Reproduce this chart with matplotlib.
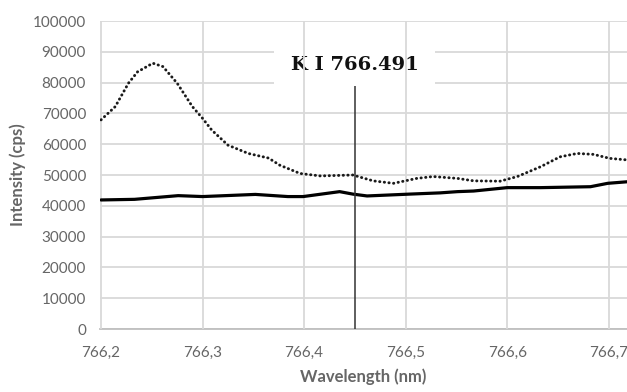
import numpy as np
import matplotlib
matplotlib.use('Agg')
import matplotlib.pyplot as plt

# dotted series
wl_dot = [766.200, 766.214, 766.227, 766.236, 766.251, 766.261, 766.275, 766.290,
          766.300, 766.309, 766.325, 766.345, 766.365, 766.376, 766.396, 766.416,
          766.448, 766.468, 766.488, 766.511, 766.527, 766.551, 766.567, 766.593,
          766.610, 766.633, 766.652, 766.669, 766.685, 766.701, 766.718]
int_dot = [67900, 72200, 79800, 83500, 86300, 85200, 79800, 72200,
           68400, 64600, 59700, 57000, 55500, 53200, 50500, 49700,
           50000, 48100, 47300, 48900, 49500, 48900, 48100, 48000,
           49500, 52700, 55900, 57000, 56700, 55400, 54900]

# solid series
wl_sol = [766.200, 766.233, 766.276, 766.300, 766.352, 766.384, 766.399, 766.435,
          766.448, 766.462, 766.504, 766.534, 766.551, 766.567, 766.600, 766.633,
          766.682, 766.699, 766.718]
int_sol = [41900, 42100, 43300, 43000, 43700, 43000, 43000, 44600,
           43800, 43200, 43800, 44200, 44600, 44800, 45900, 45900,
           46200, 47300, 47800]

line_wl = 766.45
line_top = 79000
line_label = 'K I 766.491'
xticks = [766.2, 766.3, 766.4, 766.5, 766.6, 766.7]
xticklabels = ['766,2', '766,3', '766,4', '766,5', '766,6', '766,7']
yticks = list(range(0, 100001, 10000))

grey = '#666666'
gridc = '#d9d9d9'

fig = plt.figure(figsize=(6.27, 3.92), dpi=100)
ax = fig.add_axes([0.1595, 0.1607, 0.8405, 0.7857])

ax.set_xlim(766.199, 766.718)
ax.set_ylim(0, 100000)

# horizontal grid in axis, vertical grid drawn over the label box
ax.set_axisbelow(True)
ax.yaxis.grid(True, color=gridc, lw=1.3)
ax.vlines(xticks, 0, 100000, color=gridc, lw=1.3, zorder=3.5)

ax.plot(wl_sol, int_sol, color='black', lw=2.3, zorder=5, solid_capstyle='round')
ax.plot(wl_dot, int_dot, color='#1a1a1a', lw=2.1, linestyle=(0, (0.1, 1.5)),
        dash_capstyle='round', zorder=5)

ax.text(line_wl, 85700, line_label, ha='center', va='center', fontsize=14,
        fontweight='bold', family='DejaVu Serif', color='#111111', zorder=3,
        bbox=dict(boxstyle='square,pad=0.85', fc='white', ec='none'))
ax.vlines(line_wl, 0, line_top, color='#333333', lw=1.1, zorder=6)

for s in ['left', 'right', 'top']:
    ax.spines[s].set_visible(False)
ax.spines['bottom'].set_color('#bfbfbf')
ax.spines['bottom'].set_linewidth(1.3)

ax.set_xticks(xticks)
ax.set_xticklabels(xticklabels)
ax.set_yticks(yticks)
ax.set_yticklabels([str(v) for v in yticks])
ax.tick_params(axis='both', length=0, colors=grey, labelsize=11)
ax.tick_params(axis='x', pad=12)
ax.tick_params(axis='y', pad=10)
for lab in ax.get_xticklabels() + ax.get_yticklabels():
    lab.set_family('Lato')

ax.set_xlabel('Wavelength (nm)', family='Lato', fontweight='bold', fontsize=12,
              color=grey, labelpad=6)
ax.set_ylabel('Intensity (cps)', family='Lato', fontweight='bold', fontsize=12,
              color=grey, labelpad=5)

fig.savefig('out.png', dpi=100)
